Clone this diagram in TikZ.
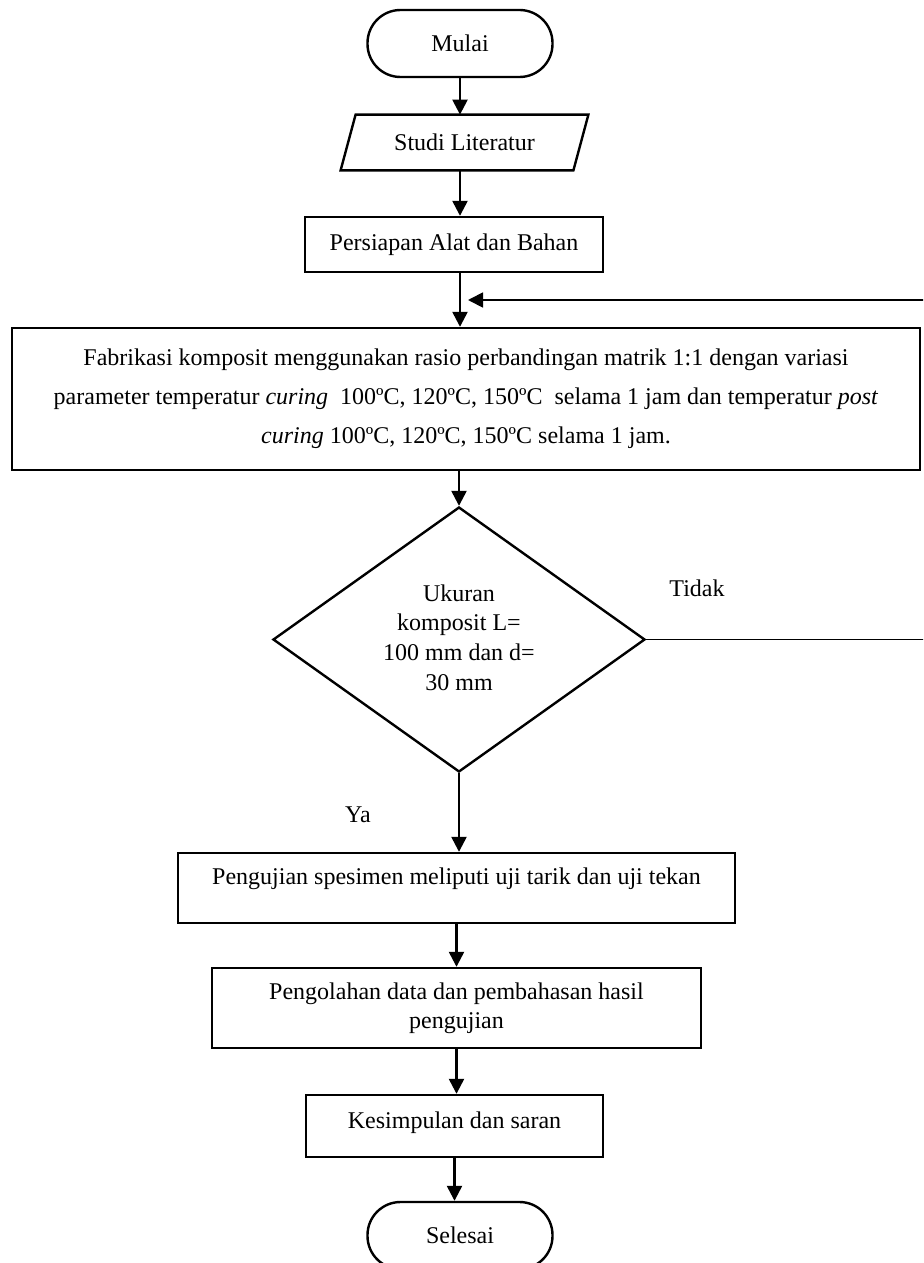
\documentclass[tikz,border=0pt]{standalone}
\usepackage{fontspec}
\setmainfont{Liberation Serif}
\usetikzlibrary{arrows.meta,shapes.geometric}
\begin{document}
\begin{tikzpicture}[x=0.5pt,y=-0.5pt,
  base/.style={font=\fontsize{12}{14.5}\selectfont, align=center, inner sep=0pt},
  procbox/.style={base, draw, line width=1.2pt, rectangle},
  term/.style={base, draw, line width=1.2pt, rectangle, rounded corners=16.5pt,
               minimum width=92.5pt, minimum height=33.5pt},
  arr/.style={line width=1.2pt, -{Triangle[length=7.5pt,width=7.5pt]}},
  loopline/.style={line width=0.6pt},
  lbl/.style={base}]
\useasboundingbox (0,0) rectangle (923,1263);
\clip (0,0) rectangle (923,1263);

% nodes
\node[term] (m) at (460,43.5) {Mulai};
\node[base, minimum width=123.5pt, minimum height=27.5pt] (st) at (464.5,142.5) {Studi Literatur};
\draw[line width=1.2pt] ([xshift=7.5pt]st.north west) -- (st.north east)
  -- ([xshift=-7.5pt]st.south east) -- (st.south west) -- cycle;
\node[procbox, minimum width=149pt, minimum height=27.5pt] (pa) at (454,244.5) {Persiapan Alat dan Bahan};
\node[procbox, font=\fontsize{12}{19.5}\selectfont, minimum width=454pt, minimum height=71pt] (fab) at (466,399)
  {Fabrikasi komposit menggunakan rasio perbandingan matrik 1:1 dengan variasi\\
   parameter temperatur \textit{curing}~ 100ºC, 120ºC, 150ºC~ selama 1 jam dan temperatur \textit{post}\\
   \textit{curing} 100ºC, 120ºC, 150ºC selama 1 jam.};
\node[diamond, draw, line width=1.2pt, minimum width=186pt, minimum height=132.5pt, inner sep=0pt] (dia) at (459,639.5) {};
\node[base, font=\fontsize{12}{14.8}\selectfont] (diatxt) at (459,637.5) {Ukuran\\komposit L=\\100 mm dan d=\\30 mm};
\node[procbox, minimum width=278.5pt, minimum height=35pt, text height=9pt, text depth=13pt] (pu) at (456.5,888)
  {Pengujian spesimen meliputi uji tarik dan uji tekan};
\node[procbox, minimum width=244.5pt, minimum height=40pt] (po) at (456.5,1008)
  {Pengolahan data dan pembahasan hasil\\pengujian};
\node[procbox, minimum width=148.5pt, minimum height=31pt, text height=9pt, text depth=7pt] (ks) at (454.5,1126)
  {Kesimpulan dan saran};
\node[term] (se) at (460,1235.5) {Selesai};

\node[lbl] (ya) at (358,815) {Ya};
\node[lbl] (tidak) at (697,588) {Tidak};

% connectors
\draw[arr] (m.south) -- (m.south |- st.north);
\draw[arr] (st.south -| m.south) -- (pa.north -| m.south);
\draw[arr] (pa.south -| m.south) -- (fab.north -| m.south);
\draw[arr] (fab.south -| dia.north) -- (dia.north);
\draw[arr] (dia.south) -- (dia.south |- pu.north);
\draw[arr] (pu.south) -- (po.north);
\draw[arr] (po.south) -- (po.south |- ks.north);
\draw[arr] (ks.south) -- (ks.south |- se.north);

% feedback loop (vertical part lies beyond the right edge)
\coordinate (loopB) at (928,300);
\coordinate (loopEnd) at (468,300);
\draw[loopline] (dia.east) -- (dia.east -| loopB) -- (loopB);
\draw[line width=0.9pt, -{Triangle[length=7.5pt,width=7.5pt]}] (loopB) -- (loopEnd);
\end{tikzpicture}
\end{document}
